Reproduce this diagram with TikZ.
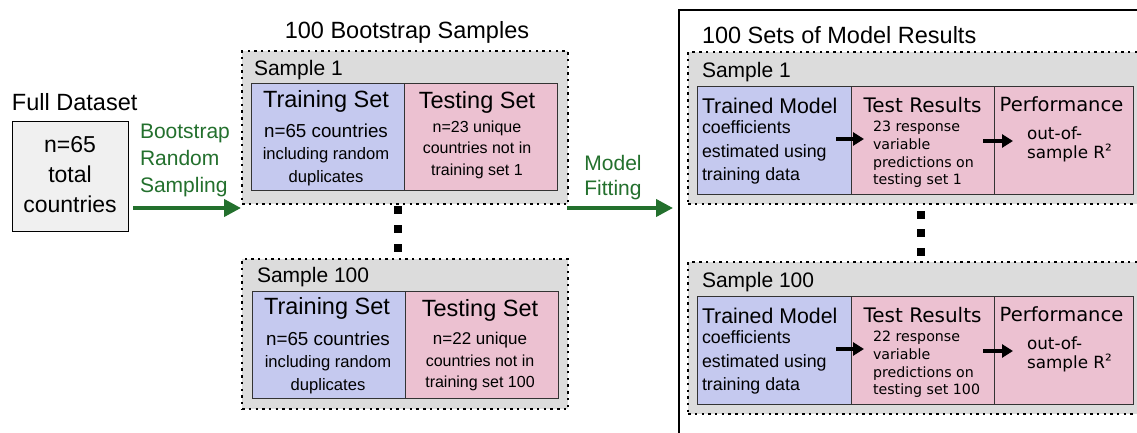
\documentclass[tikz,border=0pt]{standalone}
\usepackage{fontspec}
\setmainfont{Liberation Sans}
\newfontfamily\dvs{DejaVu Sans}
\usetikzlibrary{arrows.meta}
\definecolor{boxgrey}{RGB}{220,220,220}
\definecolor{trainblue}{RGB}{197,201,239}
\definecolor{testpink}{RGB}{236,193,209}
\definecolor{arrowgreen}{RGB}{35,112,45}
\definecolor{fullgrey}{RGB}{240,240,240}
\newcommand{\fs}[2]{\fontsize{#1}{#2}\selectfont}
\newcommand{\rsample}[4]{%
  \node[samplebox, anchor=north west, minimum width=470pt, minimum height=152pt] (#2) at (687,#1) {};
  \node[lbl, anchor=west, font=\fs{21}{25}] (#2t) at (702,{#1+21}) {#3};
  \node[cellbox, fill=trainblue, anchor=north west, minimum width=154pt, minimum height=108pt] (#2a) at (697,{#1+35}) {};
  \node[cellbox, fill=testpink, anchor=north west, minimum width=143pt, minimum height=108pt] (#2b) at (851,{#1+35}) {};
  \node[cellbox, fill=testpink, anchor=north west, minimum width=139pt, minimum height=108pt] (#2c) at (994,{#1+35}) {};
  \node[lbl, anchor=west, font=\fs{21.3}{25}] (#2ah) at (702,{#1+54.5}) {Trained Model};
  \node[lbl, anchor=west, align=left, font=\fs{17.8}{23.5}] (#2ab) at (702,{#1+101.5}) {coefficients\\estimated using\\training data};
  \node[lbl, font=\dvs\fs{20}{24}] (#2bh) at (922.5,{#1+54.5}) {Test Results};
  \node[lbl, anchor=west, align=left, font=\dvs\fs{14.2}{17.7}] (#2bb) at (873,{#1+103.5}) {#4};
  \node[lbl, font=\dvs\fs{19.5}{24}] (#2ch) at (1061.5,{#1+53}) {Performance};
  \node[lbl, anchor=west, align=left, font=\dvs\fs{16.8}{19}] (#2cb) at (1027,{#1+93}) {out-of-\\sample R\raisebox{0.1em}{²}};
  \coordinate (#2x1) at (836,{#1+88});
  \coordinate (#2x2) at (864,{#1+88});
  \coordinate (#2y1) at (983,{#1+90});
  \coordinate (#2y2) at (1013,{#1+90});
  \draw[blackarrow] (#2x1) -- (#2x2);
  \draw[blackarrow] (#2y1) -- (#2y2);
}
\begin{document}
\begin{tikzpicture}[x=1pt,y=-1pt,
  samplebox/.style={draw=black, fill=boxgrey, line width=2.4pt, dash pattern=on 2.4pt off 4.3pt},
  cellbox/.style={draw=black!80, line width=1.3pt},
  lbl/.style={inner sep=0pt, outer sep=0pt},
  greenarrow/.style={draw=arrowgreen, line width=4pt, -{Triangle[length=17pt,width=17pt]}},
  blackarrow/.style={draw=black, line width=3.2pt, -{Triangle[length=11pt,width=13pt]}},
  dotsq/.style={fill=black, minimum size=8pt, inner sep=0pt, draw=none}
]
\clip (0,0) rectangle (1137,433);
\fill[white] (0,0) rectangle (1137,433);

% Full dataset
\node[lbl, anchor=west, font=\fs{23.5}{28}] (fullt) at (12,102) {Full Dataset};
\node[draw=black, line width=1.3pt, fill=fullgrey, anchor=north west, minimum width=116pt, minimum height=110pt] (full) at (12,121) {};
\node[lbl, align=center, font=\fs{23}{30}] (fullb) at (70,175) {n=65\\total\\countries};

% green label and arrow 1
\node[lbl, anchor=west, align=left, text=arrowgreen, font=\fs{21}{27}] (bl) at (140,160) {Bootstrap\\Random\\Sampling};
\coordinate (g1s) at (133,208);
\coordinate (g1e) at (241,208);
\draw[greenarrow] (g1s) -- (g1e);

% title
\node[lbl, font=\fs{23.5}{28}] (bt) at (407,32) {100 Bootstrap Samples};

% left sample 1
\node[samplebox, anchor=north west, minimum width=326pt, minimum height=153pt] (ls1) at (241,50) {};
\node[lbl, anchor=west, font=\fs{21}{25}] (ls1t) at (254,70) {Sample 1};
\node[cellbox, fill=trainblue, anchor=north west, minimum width=153pt, minimum height=107pt] (ls1a) at (251,83) {};
\node[cellbox, fill=testpink, anchor=north west, minimum width=153pt, minimum height=107pt] (ls1b) at (404,83) {};
\node[lbl, font=\fs{23.5}{28}] (ls1ah) at (326,101) {Training Set};
\node[lbl, font=\fs{23.5}{28}] (ls1bh) at (477,102) {Testing Set};
\node[lbl, align=center, font=\fs{16.6}{22.5}] (ls1ab) at (326,154.5) {{\fs{18.8}{22.5}n=65 countries}\\including random\\duplicates};
\node[lbl, align=center, font=\fs{16}{21.5}] (ls1bb) at (477,149.5) {n=23 unique\\countries not in\\training set 1};

% left dots
\node[dotsq] (ld1) at (398,210) {};
\node[dotsq] (ld2) at (398,229) {};
\node[dotsq] (ld3) at (398,248) {};

% left sample 100
\node[samplebox, anchor=north west, minimum width=326pt, minimum height=150pt] (ls2) at (241,258) {};
\node[lbl, anchor=west, font=\fs{21}{25}] (ls2t) at (257,277) {Sample 100};
\node[cellbox, fill=trainblue, anchor=north west, minimum width=153pt, minimum height=107pt] (ls2a) at (252,291) {};
\node[cellbox, fill=testpink, anchor=north west, minimum width=153pt, minimum height=107pt] (ls2b) at (405,291) {};
\node[lbl, font=\fs{23.5}{28}] (ls2ah) at (327,308) {Training Set};
\node[lbl, font=\fs{23.5}{28}] (ls2bh) at (480,310) {Testing Set};
\node[lbl, align=center, font=\fs{16.6}{22.5}] (ls2ab) at (328,362.5) {{\fs{18.8}{22.5}n=65 countries}\\including random\\duplicates};
\node[lbl, align=center, font=\fs{16}{21.5}] (ls2bb) at (480,361.5) {{\fs{17}{21.5}n=22 unique}\\countries not in\\training set 100};

% green label and arrow 2
\node[lbl, align=center, text=arrowgreen, font=\fs{21}{25}] (mf) at (613,177.5) {Model\\Fitting};
\coordinate (g2s) at (567,208);
\coordinate (g2e) at (673,208);
\draw[greenarrow] (g2s) -- (g2e);

% right outer box
\draw[line width=2.5pt] (679,445) -- (679,10) -- (1150,10);
\node[lbl, anchor=west, font=\fs{23.5}{28}] (rt) at (702,35) {100 Sets of Model Results};

\rsample{51}{rs1}{Sample 1}{23 response\\variable\\predictions on\\testing set 1}
\rsample{261}{rs2}{Sample 100}{22 response\\variable\\predictions on\\testing set 100}

% right dots
\node[dotsq] (rd1) at (921,215) {};
\node[dotsq] (rd2) at (921,233) {};
\node[dotsq] (rd3) at (921,252) {};
\end{tikzpicture}
\end{document}
